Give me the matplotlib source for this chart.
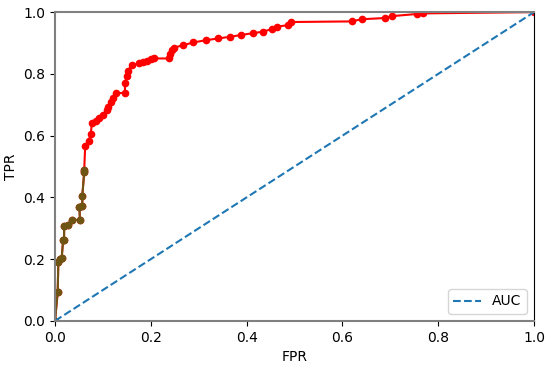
import matplotlib
matplotlib.use("Agg")
import matplotlib.pyplot as plt

# ROC points (FPR, TPR)
fpr = [0.0, 0.0, 0.0056, 0.007, 0.0104, 0.014, 0.017, 0.019, 0.019, 0.0265, 0.035,
       0.052, 0.051, 0.057, 0.057, 0.061, 0.061, 0.063, 0.070, 0.0745, 0.077, 0.086,
       0.092, 0.100, 0.108, 0.111, 0.116, 0.122, 0.127, 0.146, 0.146, 0.150, 0.152,
       0.160, 0.176, 0.184, 0.193, 0.200, 0.207, 0.239, 0.240, 0.244, 0.248, 0.268,
       0.289, 0.315, 0.341, 0.365, 0.388, 0.414, 0.435, 0.452, 0.463, 0.487, 0.492,
       0.619, 0.640, 0.689, 0.703, 0.755, 0.769, 1.0]
tpr = [0.0, 0.0, 0.092, 0.192, 0.200, 0.205, 0.262, 0.262, 0.308, 0.310, 0.327,
       0.327, 0.370, 0.373, 0.405, 0.483, 0.490, 0.566, 0.583, 0.604, 0.640, 0.647,
       0.656, 0.667, 0.683, 0.692, 0.710, 0.721, 0.737, 0.739, 0.771, 0.793, 0.810,
       0.828, 0.834, 0.839, 0.843, 0.847, 0.850, 0.850, 0.866, 0.879, 0.885, 0.893,
       0.902, 0.909, 0.915, 0.920, 0.926, 0.932, 0.937, 0.945, 0.953, 0.958, 0.968,
       0.970, 0.977, 0.981, 0.987, 0.994, 0.996, 1.0]
n_dark = 17  # first points drawn in the darker overlay colour

fig = plt.figure(figsize=(5.5, 3.68), dpi=100)
ax = fig.add_axes([0.1, 0.128, 0.871, 0.839])

ax.plot(fpr, tpr, color="red", marker="o", markersize=4.5, linewidth=1.5)
ax.plot(fpr[:n_dark], tpr[:n_dark], color="#6f5514", marker="o", markersize=4.5,
        linewidth=1.5)
ax.plot([0, 1], [0, 1], linestyle="--", color="#1f77b4", linewidth=1.5, label="AUC")

ax.set_xlim(0, 1)
ax.set_ylim(0, 1)
ax.set_xlabel("FPR")
ax.set_ylabel("TPR")
for side in ["left", "bottom", "top"]:
    ax.spines[side].set_color("#808080")
    ax.spines[side].set_linewidth(1.5)
ax.spines["right"].set_color("black")
ax.legend(loc="lower right")

fig.savefig("out.png", dpi=100)
